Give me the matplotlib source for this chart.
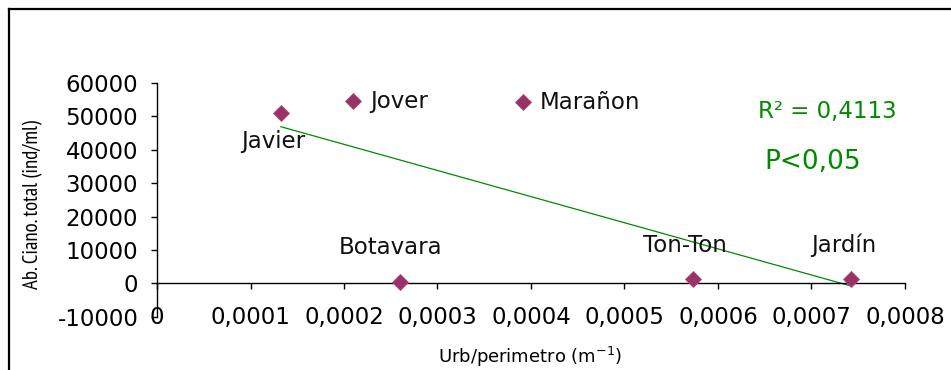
import matplotlib
matplotlib.use("Agg")
import matplotlib.pyplot as plt
import numpy as np
from matplotlib.lines import Line2D

# Lagoon sites: urbanised perimeter ratio vs. total cyanobacteria abundance
sites = ["Javier", "Jover", "Marañon", "Botavara", "Ton-Ton", "Jardín"]
urb_perimeter = [0.0001326, 0.0002096, 0.000391, 0.00026, 0.000573, 0.000742]
ciano_total = [51000, 54600, 54200, 400, 1400, 1400]

x_ticks = [0, 0.0001, 0.0002, 0.0003, 0.0004, 0.0005, 0.0006, 0.0007, 0.0008]
x_tick_labels = ["0", "0,0001", "0,0002", "0,0003", "0,0004", "0,0005",
                 "0,0006", "0,0007", "0,0008"]
y_ticks = [-10000, 0, 10000, 20000, 30000, 40000, 50000, 60000]
y_tick_labels = ["-10000", "0", "10000", "20000", "30000", "40000", "50000", "60000"]

# label offsets in pixels (dx, dy) and horizontal alignment per site
label_offsets = {
    "Javier": (-8, -28, "center"),
    "Jover": (17, 0, "left"),
    "Marañon": (17, 0, "left"),
    "Botavara": (-10, 34, "center"),
    "Ton-Ton": (-8, 33, "center"),
    "Jardín": (-7, 33, "center"),
}

MARKER = "#993366"
GREEN = "#008a00"
FONT = ["DejaVu Sans"]

fig = plt.figure(figsize=(9.51, 3.70), dpi=100)
ax = fig.add_axes([0.1651, 0.1441, 0.7865, 0.6316])

# axes styling first: moving a spine resets the tick objects
for s in ["top", "right"]:
    ax.spines[s].set_visible(False)
ax.spines["bottom"].set_position(("data", 0))
ax.spines["bottom"].set_linewidth(1.0)
ax.spines["left"].set_linewidth(1.0)

x = np.array(urb_perimeter)
y = np.array(ciano_total)

# linear trend line over the data range
slope, intercept = np.polyfit(x, y, 1)
xs = np.array([x.min(), x.max()])
ax.plot(xs, slope * xs + intercept, color=GREEN, lw=0.9, zorder=2)

ax.plot(x, y, linestyle="none", marker="D", markersize=8.5,
        markerfacecolor=MARKER, markeredgecolor="#a84a7a", markeredgewidth=0.6,
        zorder=3)

for name, xv, yv in zip(sites, urb_perimeter, ciano_total):
    dx, dy, ha = label_offsets[name]
    ax.annotate(name, (xv, yv), xytext=(dx, dy), textcoords="offset pixels",
                ha=ha, va="center", fontsize=16.5, family=FONT, color="#111111")

ax.set_xlim(0, 0.0008)
ax.set_ylim(-10000, 60000)

ax.set_xticks(x_ticks)
ax.set_xticklabels(x_tick_labels, family=FONT, fontsize=16.5)
ax.set_yticks(y_ticks)
ax.set_yticklabels(y_tick_labels, family=FONT, fontsize=16.5)
ax.tick_params(axis="x", direction="out", length=4.5, width=1.0, pad=12)
ax.tick_params(axis="y", direction="out", length=4.5, width=1.0, pad=9)

ax.set_xlabel("Urb/perimetro (m$^{-1}$)", fontsize=13, family=FONT)
ax.xaxis.set_label_coords(0.4987, -0.122)
ax.set_ylabel("Ab. Ciano. total (ind/ml)", fontsize=15,
              family=["PT Sans Narrow", "DejaVu Sans"])
ax.yaxis.set_label_coords(-0.152, 0.478)

ax.text(0.896, 0.880, "R² = 0,4113", transform=ax.transAxes, ha="center",
        va="center", fontsize=16.5, color=GREEN, family=FONT)
ax.text(0.876, 0.663, "P<0,05", transform=ax.transAxes, ha="center",
        va="center", fontsize=19, color=GREEN, family=FONT)

# outer chart frame (left and top edges)
fx = 8.5 / 951
fy = 1 - 8.5 / 370
fig.add_artist(Line2D([fx, fx], [0, fy], transform=fig.transFigure,
                      color="black", lw=1.6))
fig.add_artist(Line2D([fx, 1], [fy, fy], transform=fig.transFigure,
                      color="black", lw=1.6))

fig.savefig("out.png", dpi=100)
